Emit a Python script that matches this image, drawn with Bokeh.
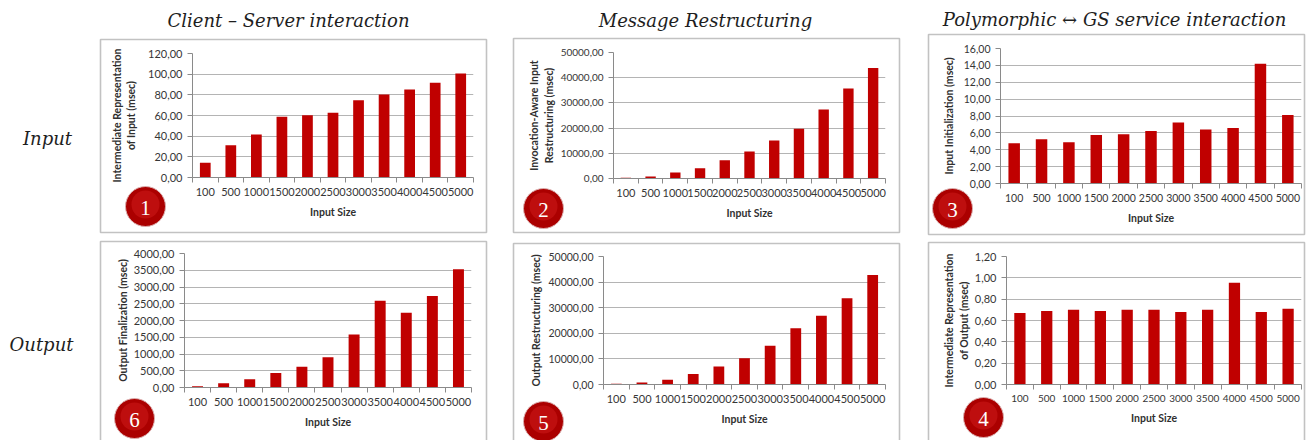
import numpy as np
from bokeh.plotting import figure
from bokeh.models import (Range1d, FixedTicker, CustomJSTickFormatter, GridBox)
from bokeh.core.properties import value
from bokeh.embed import file_html
from bokeh.resources import INLINE

# ---------------- data ----------------
input_sizes = ["100", "500", "1000", "1500", "2000", "2500",
               "3000", "3500", "4000", "4500", "5000"]

# 1: Client-Server, Intermediate Representation of Input (msec)
ir_input = [14.2, 31.3, 41.6, 58.7, 60.3, 62.6, 74.8, 80.3, 85.2, 91.6, 100.6]
# 2: Message Restructuring, Invocation-Aware Input Restructuring (msec)
input_restructuring = [300, 800, 2400, 4100, 7200, 10700, 15100, 19700, 27400, 35700, 43800]
# 3: Polymorphic <-> GS, Input Initialization (msec)
input_init = [4.76, 5.24, 4.88, 5.75, 5.83, 6.23, 7.22, 6.39, 6.59, 14.2, 8.13]
# 4: Polymorphic <-> GS, Intermediate Representation of Output (msec)
ir_output = [0.67, 0.69, 0.70, 0.69, 0.70, 0.70, 0.68, 0.70, 0.955, 0.68, 0.71]
# 5: Message Restructuring, Output Restructuring (msec)
output_restructuring = [260, 780, 1900, 4100, 7000, 10300, 15100, 22000, 26900, 33700, 42800]
# 6: Client-Server, Output Finalization (msec)
output_final = [40, 130, 250, 430, 620, 900, 1580, 2590, 2230, 2730, 3530]

column_titles = ["Client \u2013 Server interaction", "Message Restructuring",
                 "Polymorphic \u2194 GS service interaction"]
row_titles = ["Input", "Output"]
badge_numbers = ["1", "2", "3", "6", "5", "4"]

RED = "#c00000"
GRID = "#b4b4b4"
AXIS = "#8a8a8a"
TICK_TXT = "#363636"
SANS = "Lato"
SERIF = "DejaVu Serif"

W, H = 1314, 440


def make_panel(values, canvas, frame, ymax, ystep, ylabel, xfs, yfs, lab_standoff):
    x0, y0, x1, y1 = canvas
    L, R, T, B = frame
    n = len(input_sizes)
    xs = np.arange(1, n + 1)
    p = figure(width=x1 - x0, height=y1 - y0, output_backend="svg",
               toolbar_location=None, tools="", title=None,
               x_range=Range1d(0.5, n + 0.5), y_range=Range1d(0, ymax),
               min_border_left=L - x0, min_border_right=x1 - R,
               min_border_top=T - y0, min_border_bottom=y1 - B)
    p.outline_line_color = None
    p.background_fill_color = None
    p.border_fill_color = None
    p.vbar(x=xs, top=values, width=0.42, fill_color=RED, line_color=None)

    # x axis: labels at bar centres, small ticks between categories
    p.xaxis.ticker = FixedTicker(ticks=list(xs),
                                 minor_ticks=list(np.arange(0.5, n + 1, 1.0)))
    p.xaxis.major_label_overrides = {int(i): s for i, s in zip(xs, input_sizes)}
    p.xaxis.major_tick_line_color = None
    p.xaxis.minor_tick_line_color = AXIS
    p.xaxis.minor_tick_out = 5
    p.xaxis.minor_tick_in = 0
    p.xaxis.major_label_standoff = 4
    p.xaxis.axis_label = "Input Size"
    p.xaxis.axis_label_standoff = 7
    p.xaxis.major_label_text_font_size = f"{xfs}px"

    yt = [float(v) for v in np.round(np.arange(0, ymax + ystep / 2, ystep), 6)]
    p.yaxis.ticker = FixedTicker(ticks=yt, minor_ticks=[])
    p.yaxis.formatter = CustomJSTickFormatter(
        code="return tick.toFixed(2).replace('.', ',');")
    p.yaxis.major_tick_line_color = AXIS
    p.yaxis.major_tick_out = 5
    p.yaxis.major_tick_in = 0
    p.yaxis.minor_tick_line_color = None
    p.yaxis.major_label_standoff = 5
    p.yaxis.axis_label = ylabel
    p.yaxis.axis_label_standoff = lab_standoff
    p.yaxis.major_label_text_font_size = f"{yfs}px"

    for ax in (p.xaxis[0], p.yaxis[0]):
        ax.axis_line_color = AXIS
        ax.major_label_text_font = SANS
        ax.major_label_text_color = TICK_TXT
        ax.axis_label_text_font = SANS
        ax.axis_label_text_font_size = "10.5px"
        ax.axis_label_text_font_style = "bold"
        ax.axis_label_text_color = "#303030"

    p.xgrid.grid_line_color = None
    p.ygrid.grid_line_color = GRID
    p.ygrid.grid_line_width = 1
    return p


# canvases are offset by a pixel from each other so that no two plots share a
# grid line (the grid would otherwise align their frames)
canvases = [(1, 1, 486, 236), (486, 2, 913, 235), (913, 3, 1313, 234),
            (2, 236, 485, 439), (487, 237, 912, 438), (914, 238, 1312, 437)]
panels = [
    make_panel(ir_input, canvases[0], (192, 473, 53, 177), 120, 20,
               "Intermediate Representation\nof Input (msec)", 11, 11, 8),
    make_panel(input_restructuring, canvases[1], (613, 885, 52, 178), 50000, 10000,
               "Invocation-Aware Input\nRestructuring (msec)", 11, 10, 3),
    make_panel(input_init, canvases[2], (1000, 1301, 48, 183), 16, 2,
               "Input Initialization (msec)", 10.5, 10.5, 6),
    make_panel(output_final, canvases[3], (184, 471, 253, 387), 4000, 500,
               "Output Finalization (msec)", 11, 11, 2),
    make_panel(output_restructuring, canvases[4], (603, 885, 256, 384), 50000, 10000,
               "Output Restructuring (msec)", 11, 10.5, 3),
    make_panel(ir_output, canvases[5], (1006, 1301, 256, 384), 1.2, 0.2,
               "Intermediate Representation\nof Output (msec)", 10, 11, 2),
]

# ---------------- background: titles, panel frames, numbered badges ----------------
bg = figure(width=W, height=H, output_backend="svg", toolbar_location=None, tools="",
            title=None, x_range=Range1d(0, W), y_range=Range1d(H, 0),
            x_axis_type=None, y_axis_type=None, min_border=0)
bg.outline_line_color = None
bg.xgrid.grid_line_color = None
bg.ygrid.grid_line_color = None
bg.background_fill_color = "white"
bg.border_fill_color = "white"

box_left = [100, 513, 928, 100, 513, 928]
box_right = [486, 899, 1304, 486, 899, 1304]
box_top = [39, 38, 34, 241, 243, 242]
box_bottom = [232, 232, 234, 446, 446, 446]
bg.quad(left=box_left, right=box_right, top=box_top, bottom=box_bottom,
        fill_color=None, line_color="#c2c2c2", line_width=1.6)

badge_x = [145, 543, 952, 134, 543, 983]
badge_y = [206, 208, 208, 418, 421, 417]
bg.scatter(x=badge_x, y=badge_y, size=40, fill_color="#ab0000", line_color="#dcb0b0",
           line_width=1)
bg.scatter(x=badge_x, y=[v - 2 for v in badge_y], size=28, fill_color="#d21c1c",
           fill_alpha=0.5, line_color=None)
bg.text(x=badge_x, y=[v + 1 for v in badge_y], text=badge_numbers, text_align="center",
        text_baseline="middle", text_font=value("Liberation Serif"),
        text_font_size="21px", text_color="white")

bg.text(x=[288, 705, 1114], y=[20, 20, 19], text=column_titles, text_align="center",
        text_baseline="middle", text_font=value(SERIF), text_font_style="italic",
        text_font_size="18px", text_color="#1e1e1e")
bg.text(x=[47, 41], y=[138, 344], text=row_titles, text_align="center",
        text_baseline="middle", text_font=value(SERIF), text_font_style="italic",
        text_font_size="18px", text_color="#1e1e1e")

# ---------------- grid: one track per distinct edge ----------------
xs_edges = sorted({0, W} | {c[0] for c in canvases} | {c[2] for c in canvases})
ys_edges = sorted({0, H} | {c[1] for c in canvases} | {c[3] for c in canvases})
cols = [f"{b - a}px" for a, b in zip(xs_edges[:-1], xs_edges[1:])]
rows = [f"{b - a}px" for a, b in zip(ys_edges[:-1], ys_edges[1:])]

children = [(bg, 0, 0, len(rows), len(cols))]
for p, (x0, y0, x1, y1) in zip(panels, canvases):
    r0, c0 = ys_edges.index(y0), xs_edges.index(x0)
    r1, c1 = ys_edges.index(y1), xs_edges.index(x1)
    children.append((p, r0, c0, r1 - r0, c1 - c0))

layout = GridBox(children=children, rows=rows, cols=cols, spacing=0,
                 width=W, height=H)

with open("out.html", "w") as f:
    f.write(file_html(layout, INLINE))
